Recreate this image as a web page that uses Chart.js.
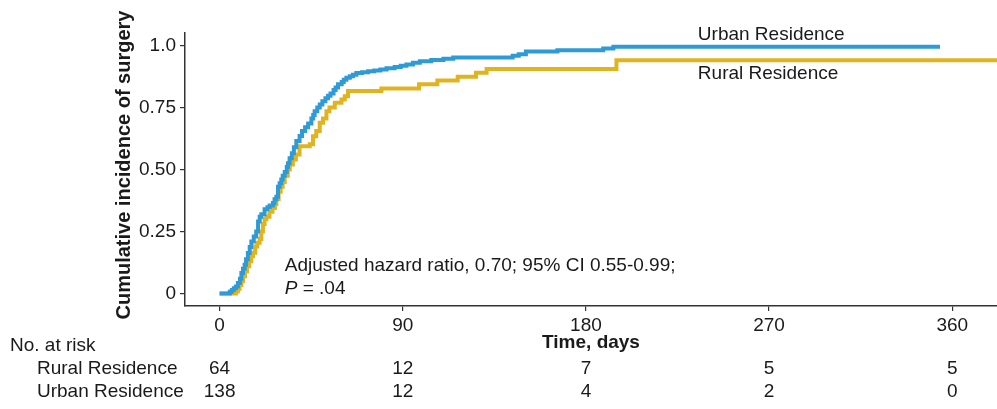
<!DOCTYPE html>
<html lang="en">
<head>
    <meta charset="UTF-8">
    <title>Cumulative incidence of surgery</title>
    <script src="https://cdn.jsdelivr.net/npm/chart.js@4.4.1/dist/chart.umd.min.js"></script>
    <style>
        body { margin: 0; background: #fff; }
        #wrap { width: 997px; height: 409px; }
    </style>
</head>
<body>
    <div id="wrap"><canvas id="kmChart" width="997" height="409"></canvas></div>

    <script>
        // event times (days) and cumulative incidence
        const urbanDays = [0, 5, 6, 7, 8, 9, 10, 10.7, 11.5, 12.3, 13, 13.9, 14.8, 15.6, 16.8, 18, 18.9, 19.7, 20.5, 22.1,
            23.5, 24.6, 26.2, 27, 27.9, 28.7, 29.5, 30.3, 31, 32, 33, 33.6, 34.4, 35.5, 36.5, 37.7, 39.3, 40.5, 42, 43.5,
            45.1, 46, 46.7, 48, 49.2, 50.5, 52, 53.3, 54.5, 56, 57, 58.2, 60, 61, 62.3, 64, 65.5, 67.2, 70, 73,
            76, 79, 82, 86, 89, 91.8, 95, 98.4, 104, 110, 114.8, 144, 147, 150.5, 166, 188.5, 193.5, 354];
        const urbanIncidence = [0, 0.007, 0.014, 0.022, 0.029, 0.043, 0.06, 0.083, 0.1, 0.116, 0.138, 0.164, 0.188, 0.21, 0.23, 0.25, 0.29, 0.31, 0.32, 0.34,
            0.348, 0.355, 0.365, 0.38, 0.39, 0.43, 0.445, 0.46, 0.475, 0.49, 0.51, 0.525, 0.545, 0.565, 0.59, 0.615, 0.635, 0.655, 0.67, 0.685,
            0.705, 0.72, 0.735, 0.75, 0.762, 0.775, 0.787, 0.797, 0.806, 0.82, 0.83, 0.843, 0.853, 0.862, 0.87, 0.876, 0.882, 0.889, 0.892, 0.896,
            0.899, 0.903, 0.908, 0.913, 0.918, 0.923, 0.93, 0.936, 0.941, 0.946, 0.951, 0.958, 0.964, 0.975, 0.98, 0.988, 0.995, 0.995];

        const ruralDays = [0, 8, 9, 9.8, 10.7, 11.5, 12.5, 13.5, 14.5, 15.5, 16.4, 17.5, 18.5, 19.7, 20.5, 21.3, 22.1, 23, 24.5, 26,
            27.2, 27.9, 29, 30, 31, 32, 33.5, 34.5, 36, 37.5, 39.3, 44.3, 45.9, 47.5, 49.2, 50.8, 52.5, 54, 56.6, 59.9,
            61.5, 63.1, 79.5, 98, 107, 117, 126, 131.2, 195, 400];
        const ruralIncidence = [0, 0.008, 0.02, 0.035, 0.05, 0.07, 0.09, 0.11, 0.13, 0.15, 0.165, 0.19, 0.205, 0.22, 0.25, 0.28, 0.3, 0.31, 0.33, 0.345,
            0.36, 0.38, 0.41, 0.43, 0.45, 0.475, 0.5, 0.52, 0.54, 0.56, 0.594, 0.602, 0.634, 0.655, 0.688, 0.705, 0.735, 0.75, 0.769, 0.782,
            0.795, 0.816, 0.826, 0.843, 0.859, 0.874, 0.89, 0.905, 0.94, 0.94];

        const xTicks = [0, 90, 180, 270, 360];
        const yTicks = [0, 0.25, 0.5, 0.75, 1.0];
        const yTickLabels = ['0', '0.25', '0.50', '0.75', '1.0'];

        const riskGroups = ['Rural Residence', 'Urban Residence'];
        const ruralAtRisk = [64, 12, 7, 5, 5];
        const urbanAtRisk = [138, 12, 4, 2, 0];

        const FONT = '"Liberation Sans", Arial, sans-serif';
        const INK = '#1a1a1a';
        const AXIS = '#333333';

        const toPoints = (days, vals) => days.map((d, i) => ({ x: d, y: vals[i] }));

        // all the text that ggplot put round the plot: labels, hazard ratio note, risk table
        const textPlugin = {
            id: 'kmTexts',
            afterDraw(chart) {
                const ctx = chart.ctx;
                const xs = chart.scales.x;
                const ys = chart.scales.y;
                const area = chart.chartArea;
                ctx.save();
                ctx.fillStyle = INK;
                ctx.textBaseline = 'middle';

                // curve labels
                ctx.textAlign = 'left';
                ctx.font = '19px ' + FONT;
                ctx.fillText('Urban Residence', xs.getPixelForValue(235), ys.getPixelForValue(1.044));
                ctx.fillText('Rural Residence', xs.getPixelForValue(235), ys.getPixelForValue(0.887));

                // hazard ratio note
                const hx = xs.getPixelForValue(32);
                ctx.fillText('Adjusted hazard ratio, 0.70; 95% CI 0.55-0.99;', hx, ys.getPixelForValue(0.113));
                const py = ys.getPixelForValue(0.02);
                ctx.font = 'italic 19px ' + FONT;
                ctx.fillText('P', hx, py);
                const pw = ctx.measureText('P').width;
                ctx.font = '19px ' + FONT;
                ctx.fillText(' = .04', hx + pw, py);

                // y axis title
                ctx.save();
                ctx.translate(124, 165);
                ctx.rotate(-Math.PI / 2);
                ctx.textAlign = 'center';
                ctx.font = 'bold 20px ' + FONT;
                ctx.fillText('Cumulative incidence of surgery', 0, 0);
                ctx.restore();

                // x axis title
                ctx.textAlign = 'center';
                ctx.font = 'bold 19px ' + FONT;
                ctx.fillText('Time, days', (area.left + area.right) / 2, 343);

                // number at risk table
                ctx.textAlign = 'left';
                ctx.font = '19px ' + FONT;
                ctx.fillText('No. at risk', 10, 346);
                ctx.fillText(riskGroups[0], 37, 369);
                ctx.fillText(riskGroups[1], 37, 392);
                ctx.textAlign = 'center';
                xTicks.forEach((t, i) => {
                    const px = xs.getPixelForValue(t);
                    ctx.fillText(String(ruralAtRisk[i]), px, 369);
                    ctx.fillText(String(urbanAtRisk[i]), px, 392);
                });
                ctx.restore();
            }
        };

        new Chart(document.getElementById('kmChart'), {
            type: 'line',
            data: {
                datasets: [
                    {
                        label: 'Urban Residence',
                        data: toPoints(urbanDays, urbanIncidence),
                        borderColor: '#2e9bd6',
                        borderWidth: 4,
                        stepped: 'before',
                        pointRadius: 0,
                        fill: false
                    },
                    {
                        label: 'Rural Residence',
                        data: toPoints(ruralDays, ruralIncidence),
                        borderColor: '#e0b420',
                        borderWidth: 4,
                        stepped: 'before',
                        pointRadius: 0,
                        fill: false
                    }
                ]
            },
            options: {
                responsive: false,
                animation: false,
                events: [],
                layout: { padding: { top: 33, left: 0, right: 0, bottom: 0 } },
                plugins: { legend: { display: false }, tooltip: { enabled: false } },
                scales: {
                    x: {
                        type: 'linear',
                        min: -17,
                        max: 382,
                        afterBuildTicks: s => { s.ticks = xTicks.map(v => ({ value: v })); },
                        afterFit: s => { s.height = 103; },
                        border: { display: true, color: AXIS, width: 1.5 },
                        grid: { drawOnChartArea: false, drawTicks: true, tickLength: 5, color: AXIS, lineWidth: 1.2 },
                        ticks: { color: INK, padding: 3, maxRotation: 0, font: { family: FONT, size: 19 } }
                    },
                    y: {
                        type: 'linear',
                        min: -0.05,
                        max: 1.05,
                        afterBuildTicks: s => { s.ticks = yTicks.map(v => ({ value: v })); },
                        afterFit: s => { s.width = 185; },
                        border: { display: true, color: AXIS, width: 1.5 },
                        grid: { drawOnChartArea: false, drawTicks: true, tickLength: 5, color: AXIS, lineWidth: 1.2 },
                        ticks: {
                            color: INK,
                            padding: 4,
                            font: { family: FONT, size: 19 },
                            callback: v => yTickLabels[yTicks.indexOf(v)]
                        }
                    }
                }
            },
            plugins: [textPlugin]
        });
    </script>
</body>
</html>
